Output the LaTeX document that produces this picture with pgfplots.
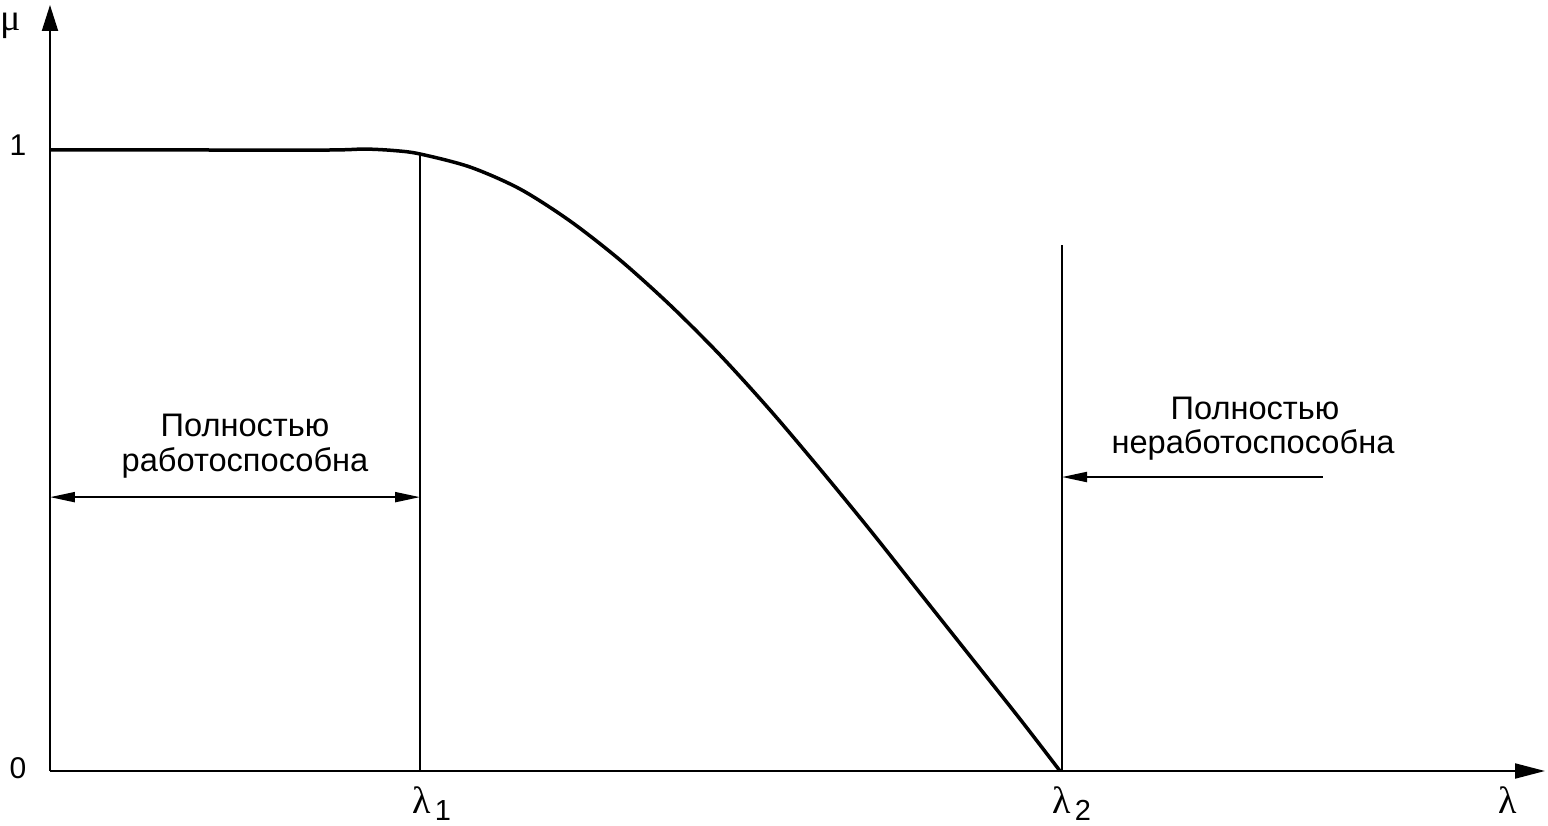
\documentclass[border=0pt]{standalone}
\usepackage{fontspec}
\setmainfont{Liberation Sans}
\newfontfamily\grk{Liberation Serif}
\usepackage{pgfplots}
\pgfplotsset{compat=1.18}
\usetikzlibrary{arrows.meta}
\begin{document}
\begin{tikzpicture}
\begin{axis}[name=ax, scale only axis, width=747.5pt, height=383pt,
  xmin=50, xmax=1545, ymin=0, ymax=1.2335,
  axis lines=left, ticks=none, clip=false,
  axis line style={line width=1pt},
  x axis line style={-{Triangle[length=15pt,width=7.5pt]}},
  y axis line style={-{Triangle[length=13pt,width=8pt]}},
  font=\fontsize{16.3}{19}\selectfont]
\addplot[black, line width=1.75pt, smooth] coordinates {
(50,1.0) (200,1.0) (330,1.0) (365,1.0015) (395,0.999) (420,0.9936) (470,0.9726)
(520,0.9372) (570,0.8857) (620,0.8229) (670,0.7504) (720,0.6699) (770,0.5813)
(820,0.4863) (870,0.3881) (920,0.2866) (970,0.1852) (1020,0.0837) (1060,0.0)};
\addplot[black, line width=1pt] coordinates {(420,0) (420,0.994)};
\addplot[black, line width=1pt] coordinates {(1062,0) (1062,0.847)};
\addplot[black, line width=1pt, {Triangle[length=12.5pt,width=5pt]}-{Triangle[length=12.5pt,width=5pt]}] coordinates {(50,0.441) (420,0.441)};
\addplot[black, line width=1pt, {Triangle[length=12.5pt,width=5pt]}-] coordinates {(1062,0.4734) (1323,0.4734)};
\node at (axis cs:245,0.557) {Полностью};
\node at (axis cs:245,0.496) {работоспособна};
\node at (axis cs:1255,0.5845) {Полностью};
\node at (axis cs:1253,0.525) {неработоспособна};
\node[font=\fontsize{15}{16}\selectfont] at (axis cs:18,1.008) {1};
\node[font=\fontsize{15}{16}\selectfont] at (axis cs:18,0.005) {0};
\node[inner sep=0pt, font=\grk\fontsize{19}{21}\selectfont] at (axis cs:11,1.2) {μ};
\node[font=\grk\fontsize{19}{21}\selectfont] at (axis cs:422,-0.0467) {λ};
\node[inner sep=0pt, font=\fontsize{14.5}{16}\selectfont] at (axis cs:443,-0.0635) {1};
\node[font=\grk\fontsize{19}{21}\selectfont] at (axis cs:1062,-0.0467) {λ};
\node[inner sep=0pt, font=\fontsize{14.5}{16}\selectfont] at (axis cs:1083,-0.0635) {2};
\node[font=\grk\fontsize{19}{21}\selectfont] at (axis cs:1508,-0.0467) {λ};
\end{axis}
\pgfresetboundingbox
\path (ax.south west) ++(-25pt,-27pt) rectangle ++(774pt,412.5pt);
\end{tikzpicture}
\end{document}
